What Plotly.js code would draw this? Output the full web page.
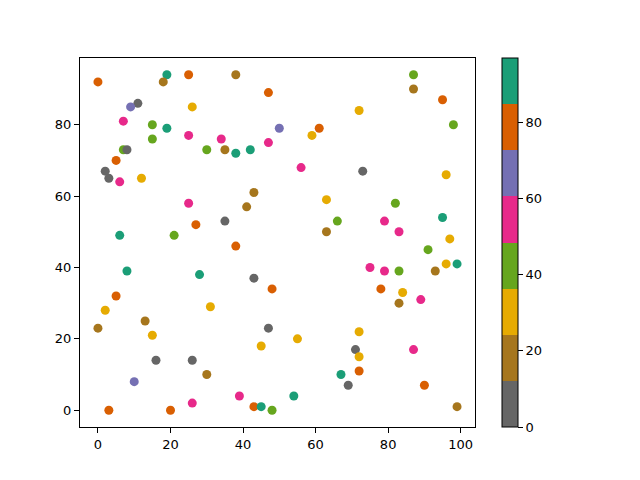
<!DOCTYPE html>
<html>
<head>
<meta charset="utf-8">
<script src="https://cdn.plot.ly/plotly-3.0.1.min.js"></script>
<style>body{margin:0;background:#fff}#chart{width:640px;height:480px}</style>
</head>
<body>
<div id="chart"></div>
<script>
// color bin values (Dark2_r bins)
var GRAY=6, BROWN=18, YELLOW=30, GREEN=42, PINK=54, PURPLE=66, ORANGE=78, TEAL=91;

var xs = [0,19,18,25,11,9,26,7,15,19,25,15,34,7,8,30,5,2,3,6,12,25,27,6,21,
          38,47,50,61,59,35,38,42,47,56,43,41,63,35,66,63,38,
          87,87,95,72,98,73,96,82,79,83,95,97,
          91,75,79,83,93,96,99,78,84,83,89,72,71,72,87,67,72,69,90,99,
          8,28,5,2,31,13,0,15,16,26,30,10,26,3,20,
          43,48,47,55,45,39,54,43,45,48];
var ys = [92,94,92,94,86,85,85,81,80,79,77,76,76,73,73,73,70,67,65,64,65,58,52,49,49,
          94,89,79,79,77,73,72,73,75,68,61,57,59,53,53,50,46,
          94,90,87,84,80,67,66,58,53,50,54,48,
          45,40,39,39,39,41,41,34,33,30,31,22,17,15,17,10,11,7,7,1,
          39,38,32,28,29,25,23,21,14,14,10,8,2,0,0,
          37,34,23,20,18,4,4,1,1,0];
var cs = [ORANGE,TEAL,BROWN,ORANGE,GRAY,PURPLE,YELLOW,PINK,GREEN,TEAL,PINK,GREEN,PINK,GREEN,GRAY,GREEN,ORANGE,GRAY,GRAY,PINK,YELLOW,PINK,ORANGE,TEAL,GREEN,
          BROWN,ORANGE,PURPLE,ORANGE,YELLOW,BROWN,TEAL,TEAL,PINK,PINK,BROWN,BROWN,YELLOW,GRAY,GREEN,BROWN,ORANGE,
          GREEN,BROWN,ORANGE,YELLOW,GREEN,GRAY,YELLOW,GREEN,PINK,PINK,TEAL,YELLOW,
          GREEN,PINK,PINK,GREEN,BROWN,YELLOW,TEAL,ORANGE,YELLOW,BROWN,PINK,YELLOW,GRAY,YELLOW,PINK,TEAL,ORANGE,GRAY,ORANGE,BROWN,
          TEAL,TEAL,ORANGE,YELLOW,YELLOW,BROWN,BROWN,YELLOW,GRAY,GRAY,BROWN,PURPLE,PINK,ORANGE,ORANGE,
          GRAY,ORANGE,GRAY,YELLOW,YELLOW,PINK,TEAL,ORANGE,TEAL,GREEN];

var palette = ['#666666','#a6761d','#e6ab02','#66a61e','#e7298a','#7570b3','#d95f02','#1b9e77'];
var colorscale = [];
for (var i=0;i<palette.length;i++){
  colorscale.push([i/palette.length, palette[i]]);
  colorscale.push([(i+1)/palette.length, palette[i]]);
}

var trace = {
  type:'scatter', mode:'markers', x:xs, y:ys,
  marker:{
    size:9, color:cs, colorscale:colorscale, cmin:0, cmax:97,
    line:{width:0},
    colorbar:{
      x:1.068, xanchor:'left', xref:'paper', y:0.5, yanchor:'middle',
      len:1, lenmode:'fraction', thickness:16, thicknessmode:'pixels',
      outlinewidth:1, outlinecolor:'#000',
      tickvals:[0,20,40,60,80], ticks:'outside', ticklen:5, tickcolor:'#000',
      tickfont:{family:'DejaVu Sans', size:13, color:'#000'}, xpad:0, ypad:0
    }
  },
  hoverinfo:'none', showlegend:false
};

var axisCommon = {
  showgrid:false, zeroline:false, showline:true, mirror:true,
  linecolor:'#000', linewidth:1, ticks:'outside', ticklen:5, tickcolor:'#000',
  tickfont:{family:'DejaVu Sans', size:13, color:'#000'}
};

var layout = {
  width:640, height:480,
  margin:{l:80, r:165, t:58, b:53, pad:0},
  paper_bgcolor:'#fff', plot_bgcolor:'#fff',
  xaxis:Object.assign({range:[-4.95,103.95], tickvals:[0,20,40,60,80,100]}, axisCommon),
  yaxis:Object.assign({range:[-4.7,98.7], tickvals:[0,20,40,60,80]}, axisCommon)
};

Plotly.newPlot('chart',[trace],layout,{staticPlot:true, displayModeBar:false});
</script>
</body>
</html>
